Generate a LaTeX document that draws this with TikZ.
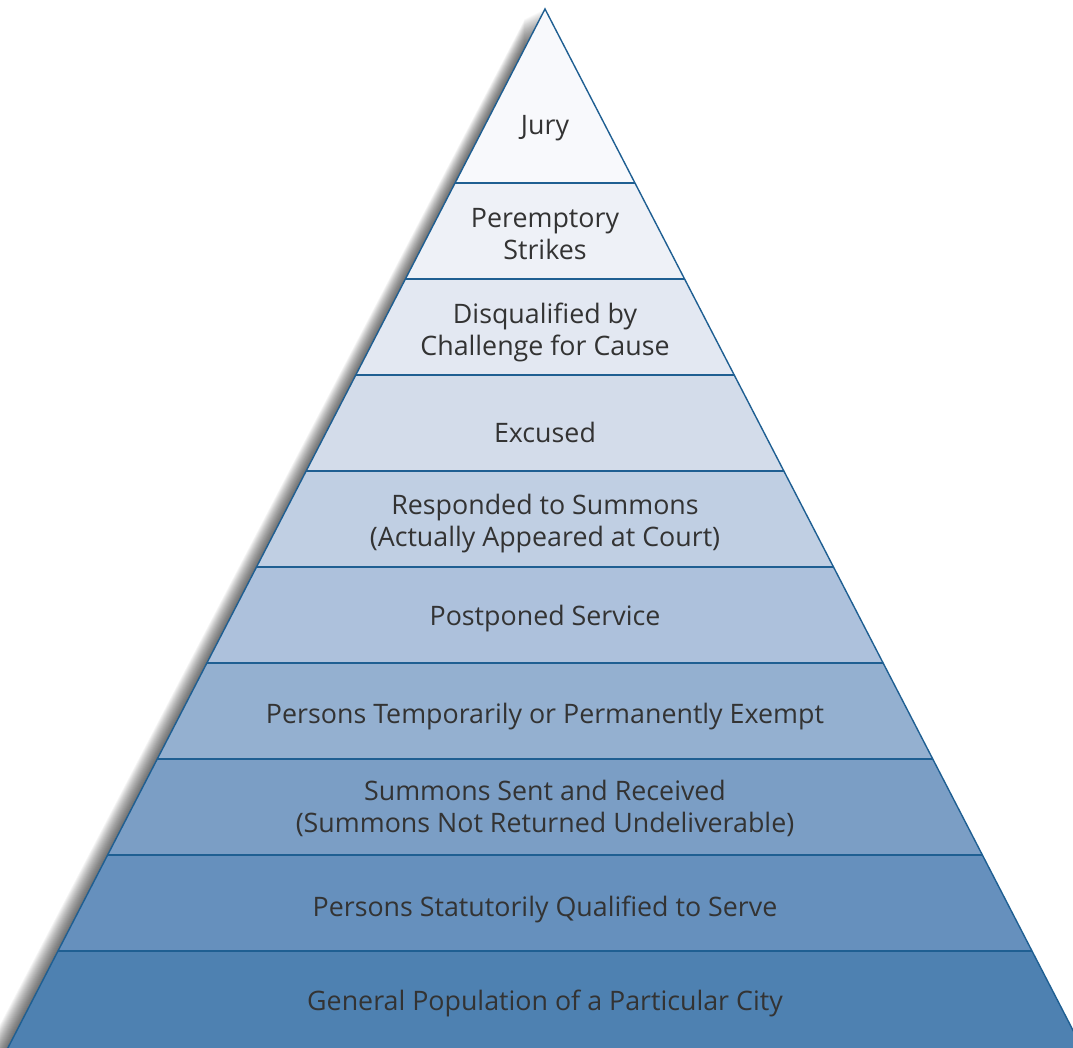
\documentclass[tikz,border=0pt]{standalone}
\usepackage{fontspec}
\setmainfont{Open Sans}
\definecolor{lineblue}{HTML}{1F5F92}
\definecolor{txt}{HTML}{333333}
\definecolor{c1}{HTML}{F8F9FC}
\definecolor{c2}{HTML}{EEF1F7}
\definecolor{c3}{HTML}{E3E8F2}
\definecolor{c4}{HTML}{D3DCEA}
\definecolor{c5}{HTML}{C0CFE3}
\definecolor{c6}{HTML}{ADC1DC}
\definecolor{c7}{HTML}{94B0D0}
\definecolor{c8}{HTML}{7B9EC5}
\definecolor{c9}{HTML}{6690BD}
\definecolor{c10}{HTML}{4E81B1}
\begin{document}
\begin{tikzpicture}[x=1pt,y=-1pt,
  edge/.style={draw=lineblue, line width=1.4pt, line join=miter},
  lbl/.style={text=txt, font=\fontsize{26.8}{32}\selectfont, align=center, inner sep=0pt}]
\useasboundingbox (0,0) rectangle (1073,1047);
\clip (0,0) rectangle (1073,1047);
% shadow on the left side
\foreach \k in {1,...,20} {
  \fill[black, opacity=0.04] ({545-\k},{9+0.5*\k}) -- ({545-0.517*1060-\k},1069) -- ({545-\k},1069) -- cycle;
}
% layers
\foreach \ya/\yb/\c in {9/183/c1, 183/279/c2, 279/375/c3, 375/471/c4, 471/567/c5, 567/663/c6, 663/759/c7, 759/855/c8, 855/951/c9, 951/1069/c10} {
  \fill[\c] ({545-0.517*(\ya-9)},\ya) -- ({545+0.517*(\ya-9)},\ya) -- ({545+0.517*(\yb-9)},\yb) -- ({545-0.517*(\yb-9)},\yb) -- cycle;
}
\foreach \y in {183,279,375,471,567,663,759,855,951} {
  \draw[edge] ({545-0.517*(\y-9)},\y) -- ({545+0.517*(\y-9)},\y);
}
\coordinate (apex) at (545,9);
\coordinate (bl) at ({545-0.517*1060},1069);
\coordinate (br) at ({545+0.517*1060},1069);
\draw[edge] (bl) -- (apex) -- (br);
% labels
\node[lbl] (L1) at (545,128) {Jury};
\node[lbl] (L2) at (545,234) {Peremptory\\Strikes};
\node[lbl] (L3) at (545,332) {Disqualified by\\Challenge for Cause};
\node[lbl] (L4) at (545,432) {Excused};
\node[lbl] (L5) at (545,524) {Responded to Summons\\(Actually Appeared at Court)};
\node[lbl] (L6) at (545,619) {Postponed Service};
\node[lbl] (L7) at (545,717) {Persons Temporarily or Permanently Exempt};
\node[lbl] (L8) at (545,808) {Summons Sent and Received\\(Summons Not Returned Undeliverable)};
\node[lbl] (L9) at (545,909) {Persons Statutorily Qualified to Serve};
\node[lbl] (L10) at (545,1003) {General Population of a Particular City};
\end{tikzpicture}
\end{document}
